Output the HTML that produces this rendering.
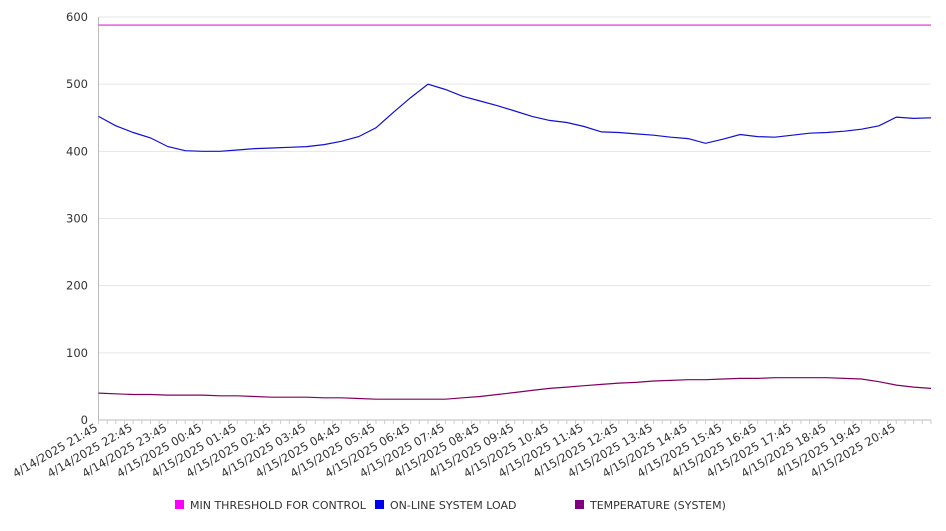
<!DOCTYPE html>
<html><head><meta charset="utf-8"><style>
body{margin:0;background:#fff;font-family:"Liberation Sans","DejaVu Sans",sans-serif}
svg text{font-family:"DejaVu Sans","Liberation Sans",sans-serif;fill:#333}
</style></head><body>
<svg id="c" width="946" height="526"></svg>
<script>
const yTicks=[0,100,200,300,400,500,600];
const xLabels=["4/14/2025 21:45","4/14/2025 22:45","4/14/2025 23:45","4/15/2025 00:45","4/15/2025 01:45","4/15/2025 02:45","4/15/2025 03:45","4/15/2025 04:45","4/15/2025 05:45","4/15/2025 06:45","4/15/2025 07:45","4/15/2025 08:45","4/15/2025 09:45","4/15/2025 10:45","4/15/2025 11:45","4/15/2025 12:45","4/15/2025 13:45","4/15/2025 14:45","4/15/2025 15:45","4/15/2025 16:45","4/15/2025 17:45","4/15/2025 18:45","4/15/2025 19:45","4/15/2025 20:45"];
const thresholdValue=588;
const loadValues=[452,438,428,420,407,401,400,400,402,404,405,406,407,410,415,422,435,458,480,500,492,482,475,468,460,452,446,443,437,429,428,426,424,421,419,412,418,425,422,421,424,427,428,430,433,438,451,449,450];
const tempValues=[40,39,38,38,37,37,37,36,36,35,34,34,34,33,33,32,31,31,31,31,31,33,35,38,41,44,47,49,51,53,55,56,58,59,60,60,61,62,62,63,63,63,63,62,61,57,52,49,47];
const X0=98.5,X1=931,Y0=420,Y1=17;
const n=loadValues.length;
const xs=i=>X0+(X1-X0)*i/(n-1);
const ys=v=>Y0-(Y0-Y1)*v/600;
const svg=document.getElementById('c');
const NS='http://www.w3.org/2000/svg';
function mk(t,a){const e=document.createElementNS(NS,t);for(const k in a)e.setAttribute(k,a[k]);svg.appendChild(e);return e;}
yTicks.forEach(v=>{
 const g=mk('line',{x1:X0,x2:X1,y1:ys(v),y2:ys(v),stroke:'#e6e6e6','stroke-width':1});
 
 
 const t=mk('text',{x:88,y:ys(v)+4,'text-anchor':'end','font-size':'11.5'});
 t.textContent=v;
 
 
});
const ax=mk('line',{x1:X0,x2:X0,y1:Y1,y2:Y0,stroke:'#bbb'});


const bx=mk('line',{x1:X0,x2:X1,y1:Y0,y2:Y0,stroke:'#bbb'});


const hourPx=(X1-X0)/24;
for(let k=0;k<=96;k++){const x=X0+hourPx*k/4;const m=mk('line',{x1:x,x2:x,y1:Y0,y2:Y0+4,stroke:'#ccc'});
 
 }
xLabels.forEach((s,i)=>{
 const x=X0+hourPx*i;
 const t=mk('text',{x:x,y:Y0+10,'text-anchor':'end','font-size':'11.5',transform:`rotate(-30 ${x} ${Y0+10})`});
 t.textContent=s;
 
 
});
const th=mk('line',{x1:X0,x2:X1,y1:ys(thresholdValue),y2:ys(thresholdValue),stroke:'#e020e0','stroke-width':1.2});


function series(vals,col,name){
 const p=mk('path',{d:vals.map((v,i)=>(i?'L':'M')+xs(i).toFixed(1)+' '+ys(v).toFixed(1)).join(''),fill:'none',stroke:col,'stroke-width':1.2});
 
 
}
series(loadValues,'#1010d0','online-system-load-line');
series(tempValues,'#800060','temperature-line');
const leg=[['#ff00ff','MIN THRESHOLD FOR CONTROL',175],['#0000ee','ON-LINE SYSTEM LOAD',375],['#800080','TEMPERATURE (SYSTEM)',575]];
leg.forEach(l=>{
 const r=mk('rect',{x:l[2],y:500,width:9,height:9,fill:l[0]});
 
 
 const t=mk('text',{x:l[2]+15,y:509,'font-size':'11'});
 t.textContent=l[1];
 
 
});
</script>
</body></html>
